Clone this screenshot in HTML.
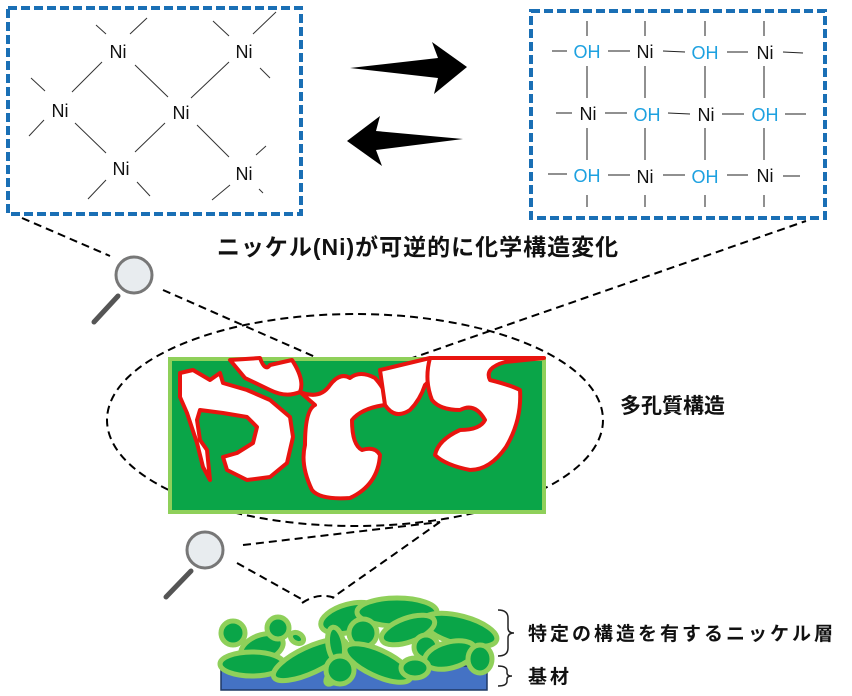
<!DOCTYPE html>
<html><head><meta charset="utf-8"><style>
html,body{margin:0;padding:0;background:#fff;}
svg{display:block;}
text{font-family:"Liberation Sans","Noto Sans CJK JP",sans-serif;}
</style></head><body>
<svg width="852" height="696" viewBox="0 0 852 696" xmlns="http://www.w3.org/2000/svg">
<!-- left box -->
<rect x="8" y="8" width="293" height="206" fill="none" stroke="#1a6fb5" stroke-width="4" stroke-dasharray="9,4"/>
<g stroke="#333" stroke-width="1">
<line x1="96" y1="25" x2="106" y2="34"/><line x1="130" y1="34" x2="147" y2="18"/>
<line x1="213" y1="21" x2="229" y2="36"/><line x1="253" y1="34" x2="276" y2="12"/>
<line x1="102" y1="62" x2="72" y2="92"/><line x1="135" y1="65" x2="168" y2="97"/>
<line x1="229" y1="62" x2="191" y2="98"/><line x1="260" y1="68" x2="270" y2="78"/>
<line x1="31" y1="78" x2="45" y2="91"/><line x1="44" y1="120" x2="29" y2="136"/>
<line x1="75" y1="123" x2="106" y2="153"/><line x1="165" y1="123" x2="135" y2="152"/>
<line x1="197" y1="125" x2="229" y2="157"/><line x1="256" y1="155" x2="266" y2="146"/>
<line x1="106" y1="180" x2="88" y2="199"/><line x1="137" y1="182" x2="150" y2="196"/>
<line x1="230" y1="185" x2="212" y2="200"/><line x1="259" y1="189" x2="263" y2="193"/>
</g>
<g font-size="18" fill="#111" text-anchor="middle">
<text x="118" y="58">Ni</text><text x="244" y="58">Ni</text>
<text x="60" y="117">Ni</text><text x="181" y="119">Ni</text>
<text x="121" y="175">Ni</text><text x="244" y="180">Ni</text>
</g>
<!-- right box -->
<rect x="531" y="11" width="294" height="207" fill="none" stroke="#1a6fb5" stroke-width="4" stroke-dasharray="9,4"/>
<g stroke="#222" stroke-width="1">
<line x1="587" y1="21" x2="587" y2="36"/><line x1="645" y1="21" x2="645" y2="36"/><line x1="705" y1="21" x2="705" y2="36"/><line x1="764" y1="21" x2="764" y2="36"/>
<line x1="587" y1="66" x2="587" y2="98"/><line x1="645" y1="66" x2="645" y2="98"/><line x1="705" y1="66" x2="705" y2="98"/><line x1="764" y1="66" x2="764" y2="98"/>
<line x1="587" y1="128" x2="587" y2="160"/><line x1="645" y1="128" x2="645" y2="160"/><line x1="705" y1="128" x2="705" y2="160"/><line x1="764" y1="128" x2="764" y2="160"/>
<line x1="587" y1="195" x2="587" y2="207"/><line x1="645" y1="195" x2="645" y2="207"/><line x1="705" y1="195" x2="705" y2="207"/><line x1="764" y1="195" x2="764" y2="207"/>
<line x1="552" y1="51" x2="567" y2="51"/><line x1="608" y1="51" x2="630" y2="51"/><line x1="663" y1="51" x2="685" y2="52"/><line x1="727" y1="52" x2="748" y2="52"/><line x1="783" y1="52" x2="803" y2="53"/>
<line x1="556" y1="113" x2="572" y2="113"/><line x1="605" y1="113" x2="627" y2="113"/><line x1="668" y1="113" x2="690" y2="114"/><line x1="722" y1="114" x2="744" y2="114"/><line x1="785" y1="114" x2="806" y2="114"/>
<line x1="548" y1="174" x2="567" y2="174"/><line x1="608" y1="175" x2="630" y2="175"/><line x1="663" y1="175" x2="685" y2="175"/><line x1="727" y1="175" x2="748" y2="175"/><line x1="783" y1="176" x2="800" y2="176"/>
</g>
<g font-size="18" text-anchor="middle">
<text x="587" y="58" fill="#1da1e0">OH</text><text x="645" y="58" fill="#111">Ni</text><text x="705" y="59" fill="#1da1e0">OH</text><text x="765" y="59" fill="#111">Ni</text>
<text x="588" y="120" fill="#111">Ni</text><text x="647" y="121" fill="#1da1e0">OH</text><text x="706" y="121" fill="#111">Ni</text><text x="765" y="121" fill="#1da1e0">OH</text>
<text x="587" y="182" fill="#1da1e0">OH</text><text x="645" y="183" fill="#111">Ni</text><text x="705" y="183" fill="#1da1e0">OH</text><text x="765" y="182" fill="#111">Ni</text>
</g>
<!-- arrows -->
<polygon points="350,68 438,58 432,42 467,67 434,94 438,78" fill="#000"/>
<polygon points="463,139 376,150 382,166 347,141 380,116 376,131" fill="#000"/>
<!-- title -->
<text x="418" y="255" font-size="23" font-weight="bold" text-anchor="middle" fill="#111" letter-spacing="1">ニッケル(Ni)が可逆的に化学構造変化</text>
<!-- dashed connectors -->
<g fill="none" stroke="#000" stroke-width="2" stroke-dasharray="8,5">
<line x1="22" y1="218" x2="110" y2="256"/>
<line x1="163" y1="290" x2="338" y2="367"/>
<line x1="372" y1="372" x2="806" y2="221"/>
<ellipse cx="355" cy="420" rx="248" ry="106"/>
<ellipse cx="357" cy="367" rx="18" ry="8"/>
<line x1="237" y1="563" x2="305" y2="601"/>
<line x1="243" y1="545" x2="440" y2="522"/>
<line x1="440" y1="522" x2="332" y2="598"/>
<path d="M302,603 Q318,592 335,598"/>
</g>
<!-- magnifiers -->
<g>
<line x1="118" y1="296" x2="94" y2="322" stroke="#555" stroke-width="5" stroke-linecap="round"/>
<circle cx="134" cy="275" r="18" fill="#e8ecef" stroke="#777" stroke-width="3"/>
<line x1="191" y1="571" x2="166" y2="597" stroke="#555" stroke-width="5" stroke-linecap="round"/>
<circle cx="205" cy="550" r="18" fill="#e8ecef" stroke="#777" stroke-width="3"/>
</g>
<!-- porous block -->
<rect x="170" y="359" width="374" height="153" fill="#0aa548" stroke="#8fd05a" stroke-width="4"/>
<g fill="#fff" stroke="#e8140f" stroke-width="4" stroke-linejoin="round">
<path d="M180,373 L193,370 L210,380 L220,373 L223,383 L247,390 L270,400 L290,417 L293,437 L287,463 L270,477 L247,480 L227,470 L223,457 L237,453 L253,443 L257,427 L247,417 L223,413 L200,410 L197,420 L200,440 L207,450 L210,480 L203,467 L197,443 L187,413 L180,397 Z"/>
<path d="M230,360 L260,358 Q265,372 270,365 L292,360 Q305,380 300,392 Q286,398 270,390 L245,378 Z"/>
<path d="M300,392 Q320,400 330,385 Q340,372 350,378 Q360,370 375,378 Q390,395 385,405 Q362,408 352,420 Q352,445 362,450 Q375,446 380,455 Q378,485 350,498 Q320,500 312,490 Q300,465 305,445 Q305,410 315,405 Z"/>
<path d="M380,370 L430,358 Q440,372 425,385 Q420,400 410,410 Q395,420 385,405 Z"/>
<path d="M430,358 L544,358 L505,362 Q484,368 490,380 Q510,385 520,390 Q522,420 506,447 Q490,470 470,470 Q445,465 435,455 Q438,440 460,430 Q480,430 485,420 Q475,402 460,410 Q440,410 432,400 Q424,380 430,358 Z"/>
</g>
<text x="620" y="413" font-size="21" font-weight="bold" fill="#111">多孔質構造</text>
<!-- substrate layer -->
<rect x="221" y="666" width="266" height="24" fill="#4472c4" stroke="#1f3864" stroke-width="1.5"/>
<g fill="#0aa548" stroke="#8fd05a" stroke-width="5">
<ellipse cx="350" cy="618" rx="30" ry="14" transform="rotate(-15 350 618)"/>
<ellipse cx="397" cy="612" rx="40" ry="14"/>
<ellipse cx="460" cy="630" rx="38" ry="14" transform="rotate(15 460 630)"/>
<ellipse cx="233" cy="633" rx="12" ry="12"/>
<ellipse cx="262" cy="648" rx="22" ry="13" transform="rotate(-20 262 648)"/>
<ellipse cx="278" cy="628" rx="11" ry="11"/>
<ellipse cx="297" cy="638" rx="7" ry="5" transform="rotate(30 297 638)"/>
<ellipse cx="363" cy="633" rx="14" ry="14"/>
<ellipse cx="408" cy="630" rx="28" ry="12" transform="rotate(-20 408 630)"/>
<ellipse cx="426" cy="647" rx="12" ry="12"/>
<ellipse cx="450" cy="655" rx="26" ry="13" transform="rotate(-15 450 655)"/>
<ellipse cx="252" cy="664" rx="32" ry="12"/>
<ellipse cx="310" cy="660" rx="40" ry="13" transform="rotate(-25 310 660)"/>
<ellipse cx="378" cy="663" rx="36" ry="13" transform="rotate(25 378 663)"/>
<ellipse cx="336" cy="645" rx="8" ry="18" transform="rotate(-10 336 645)"/>
<ellipse cx="338" cy="672" rx="16" ry="6" transform="rotate(-45 338 672)"/>
<ellipse cx="480" cy="659" rx="12" ry="14"/>
<ellipse cx="340" cy="670" rx="14" ry="14"/>
<ellipse cx="415" cy="668" rx="14" ry="10"/>
</g>
<!-- braces -->
<g fill="none" stroke="#222" stroke-width="1.5">
<path d="M498,610 Q508,610 508,618 L508,628 Q508,633 514,633 Q508,633 508,638 L508,648 Q508,656 498,656"/>
<path d="M498,666 Q507,666 507,671 L507,673 Q507,676 512,676 Q507,676 507,679 L507,681 Q507,686 498,686"/>
</g>
<g font-size="19" font-weight="bold" fill="#111" letter-spacing="3">
<text x="528" y="640">特定の構造を有するニッケル層</text>
<text x="528" y="683">基材</text>
</g>
</svg>
</body></html>
